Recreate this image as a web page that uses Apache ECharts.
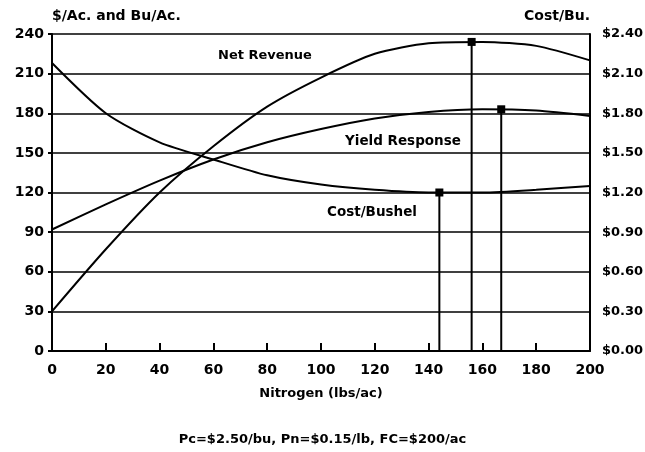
<!DOCTYPE html>
<html>
<head>
<meta charset="utf-8">
<script src="https://cdn.jsdelivr.net/npm/echarts@6/dist/echarts.min.js"></script>
<style>
  html, body { margin: 0; padding: 0; background: #fff; }
  #main { width: 645px; height: 452px; }
</style>
</head>
<body>
<div id="main"></div>
<script>
// nitrogen rate (lbs/ac)
var nitrogen = [0, 20, 40, 60, 80, 100, 120, 140, 160, 180, 200];
// $/ac
var netRevenue = [30, 77, 120, 155, 185, 207, 225, 233, 234, 231, 220];
// bu/ac
var yieldResp = [92, 111, 129, 145, 158, 168, 176, 181, 183, 182, 178];
// $/bu (right axis)
var costBushel = [2.18, 1.80, 1.58, 1.45, 1.33, 1.26, 1.22, 1.20, 1.20, 1.22, 1.25];

// optimum points: cost min, revenue max, yield max
var optN = [144, 156, 167];
var optVal = [1.20, 234, 183];

var font = 'DejaVu Sans';

function pairs(ys) {
	return nitrogen.map(function (n, i) { return [n, ys[i]]; });
}

// vertical line from the x axis up to the optimum, square marker on top
function dropLine(i, axis) {
	return {
		type: 'line',
		yAxisIndex: axis,
		data: [
			{ value: [optN[i], 0], symbol: 'none' },
			{ value: [optN[i], optVal[i]], symbol: 'rect' }
		],
		symbolSize: 8,
		showSymbol: true,
		itemStyle: { color: '#000' },
		lineStyle: { color: '#000', width: 2 }
	};
}

var myChart = echarts.init(document.getElementById('main'));
option = {
	backgroundColor: '#fff',
	animation: false,
	color: ['#000'],
	textStyle: { fontFamily: font, fontWeight: 'bold', color: '#000' },
	grid: { left: 52, right: 55, top: 34, bottom: 101, outerBoundsMode: 'none' },
	title: {
		text: 'Pc=$2.50/bu, Pn=$0.15/lb, FC=$200/ac',
		left: 'center',
		top: 428,
		textStyle: { fontFamily: font, fontWeight: 'bold', fontSize: 13, color: '#000' }
	},
	xAxis: {
		type: 'value',
		min: 0,
		max: 200,
		interval: 20,
		name: 'Nitrogen (lbs/ac)',
		nameLocation: 'middle',
		nameGap: 36,
		nameTextStyle: { fontFamily: font, fontWeight: 'bold', fontSize: 13, color: '#000' },
		axisLine: { lineStyle: { color: '#000', width: 2 } },
		axisTick: { inside: true, length: 8, lineStyle: { color: '#000', width: 2 } },
		axisLabel: { fontFamily: font, fontWeight: 'bold', fontSize: 14, color: '#000', margin: 12 },
		splitLine: { show: false }
	},
	yAxis: [{
		type: 'value',
		min: 0,
		max: 240,
		interval: 30,
		name: '$/Ac. and Bu/Ac.',
		nameLocation: 'end',
		nameGap: 11,
		nameTextStyle: { fontFamily: font, fontWeight: 'bold', fontSize: 14, color: '#000', align: 'left' },
		axisLine: { show: true, lineStyle: { color: '#000', width: 2 } },
		axisTick: { show: true, length: 4, lineStyle: { color: '#000', width: 2 } },
		axisLabel: { fontFamily: font, fontWeight: 'bold', fontSize: 14, color: '#000', margin: 8 },
		splitLine: { lineStyle: { color: '#000', width: 1.5 } }
	}, {
		type: 'value',
		min: 0,
		max: 2.4,
		interval: 0.3,
		name: 'Cost/Bu.',
		nameLocation: 'end',
		nameGap: 11,
		nameTextStyle: { fontFamily: font, fontWeight: 'bold', fontSize: 14, color: '#000', align: 'right' },
		axisLine: { show: true, lineStyle: { color: '#000', width: 2 } },
		axisTick: { show: false },
		axisLabel: {
			fontFamily: font, fontWeight: 'bold', fontSize: 13, color: '#000', margin: 12,
			formatter: function (v) { return '$' + v.toFixed(2); }
		},
		splitLine: { show: false }
	}],
	graphic: [
		{ type: 'text', left: 218, top: 49, style: { text: 'Net Revenue', font: 'bold 13px ' + font, fill: '#000' } },
		{ type: 'text', left: 345, top: 134, style: { text: 'Yield Response', font: 'bold 13.5px ' + font, fill: '#000' } },
		{ type: 'text', left: 327, top: 205, style: { text: 'Cost/Bushel', font: 'bold 13.5px ' + font, fill: '#000' } }
	],
	series: [{
		name: 'Net Revenue',
		type: 'line',
		data: pairs(netRevenue),
		smooth: 0.25,
		symbol: 'none',
		lineStyle: { color: '#000', width: 2 }
	}, {
		name: 'Yield Response',
		type: 'line',
		data: pairs(yieldResp),
		smooth: 0.25,
		symbol: 'none',
		lineStyle: { color: '#000', width: 2 }
	}, {
		name: 'Cost/Bushel',
		type: 'line',
		yAxisIndex: 1,
		data: pairs(costBushel),
		smooth: 0.25,
		symbol: 'none',
		lineStyle: { color: '#000', width: 2 }
	},
	dropLine(0, 1),
	dropLine(1, 0),
	dropLine(2, 0)]
};

myChart.setOption(option);
</script>
</body>
</html>
